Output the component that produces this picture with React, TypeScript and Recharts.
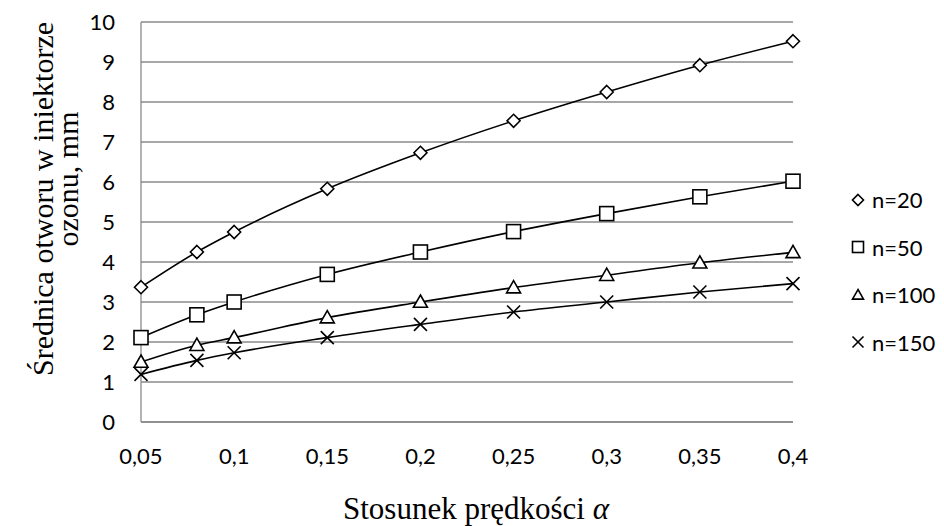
import React from 'react';
import { LineChart, Line, XAxis, YAxis, CartesianGrid } from 'recharts';

const alpha = [0.05, 0.08, 0.1, 0.15, 0.2, 0.25, 0.3, 0.35, 0.4];
const n20 = [3.37, 4.25, 4.75, 5.83, 6.73, 7.53, 8.25, 8.92, 9.52];
const n50 = [2.11, 2.68, 3.0, 3.69, 4.25, 4.76, 5.21, 5.63, 6.02];
const n100 = [1.5, 1.92, 2.11, 2.61, 3.0, 3.36, 3.67, 3.98, 4.24];
const n150 = [1.19, 1.54, 1.73, 2.11, 2.44, 2.75, 3.0, 3.25, 3.46];
const xTicks = [0.05, 0.1, 0.15, 0.2, 0.25, 0.3, 0.35, 0.4];
const yTicks = [0, 1, 2, 3, 4, 5, 6, 7, 8, 9, 10];

const data = alpha.map((a, i) => ({ a, n20: n20[i], n50: n50[i], n100: n100[i], n150: n150[i] }));

type Shape = 'diamond' | 'square' | 'triangle' | 'cross';

const Marker = ({ shape, cx, cy, s }: { shape: Shape; cx: number; cy: number; s: number }) => {
  const st = { fill: '#fff', stroke: '#000', strokeWidth: 1.6 };
  if (shape === 'diamond')
    return <polygon points={`${cx},${cy - s} ${cx + s},${cy} ${cx},${cy + s} ${cx - s},${cy}`} {...st} />;
  if (shape === 'square') return <rect x={cx - s} y={cy - s} width={2 * s} height={2 * s} {...st} />;
  if (shape === 'triangle')
    return <polygon points={`${cx},${cy - s} ${cx + s},${cy + s * 0.75} ${cx - s},${cy + s * 0.75}`} {...st} />;
  return (
    <g stroke="#000" strokeWidth={1.6}>
      <line x1={cx - s} y1={cy - s} x2={cx + s} y2={cy + s} />
      <line x1={cx - s} y1={cy + s} x2={cx + s} y2={cy - s} />
    </g>
  );
};

const series: { key: string; name: string; shape: Shape; size: number }[] = [
  { key: 'n20', name: 'n=20', shape: 'diamond', size: 6.5 },
  { key: 'n50', name: 'n=50', shape: 'square', size: 7 },
  { key: 'n100', name: 'n=100', shape: 'triangle', size: 7 },
  { key: 'n150', name: 'n=150', shape: 'cross', size: 6.5 },
];

const fmt = (v: number) => String(v).replace('.', ',');

const ChartLegend = () => (
  <div style={{ position: 'absolute', left: 849, top: 176, fontFamily: 'Lato', fontSize: 22, color: '#000' }}>
    {series.map((s) => (
      <div key={s.key} style={{ height: 47.5, display: 'flex', alignItems: 'center' }}>
        <svg width={18} height={20} style={{ marginRight: 5 }}>
          <Marker shape={s.shape} cx={9} cy={10} s={5.5} />
        </svg>
        <span>{s.name}</span>
      </div>
    ))}
  </div>
);

// axis titles drawn over the chart, in a serif face
const Titles = () => (
  <svg
    width={944}
    height={526}
    style={{ position: 'absolute', left: 0, top: 0, pointerEvents: 'none' }}
    fontFamily="'Liberation Serif', 'Times New Roman', serif"
    fill="#000"
  >
    <text x={53} y={199} fontSize={30} textAnchor="middle" transform="rotate(-90, 53, 199)">
      Średnica otworu w iniektorze
    </text>
    <text x={78} y={179} fontSize={30} textAnchor="middle" transform="rotate(-90, 78, 179)">
      ozonu, mm
    </text>
    <text x={476} y={519} fontSize={31} textAnchor="middle">
      Stosunek prędkości <tspan fontStyle="italic">α</tspan>
    </text>
  </svg>
);

export default function App() {
  return (
    <div style={{ position: 'absolute', left: 0, top: 0, width: 944, height: 526, background: '#fff' }}>
      <LineChart width={944} height={526} data={data} margin={{ top: 22, right: 151, bottom: 44, left: 81 }}>
        <CartesianGrid vertical={false} stroke="#8a8a8a" strokeWidth={1.3} />
        <XAxis
          dataKey="a"
          type="number"
          domain={[0.05, 0.4]}
          ticks={xTicks}
          tickFormatter={fmt}
          height={60}
          stroke="#8a8a8a"
          strokeWidth={1.3}
          tickLine={false}
          tickSize={0}
          tickMargin={26}
          tick={{ fill: '#000', fontFamily: 'Lato', fontSize: 22 }}
        />
        <YAxis
          type="number"
          domain={[0, 10]}
          ticks={yTicks}
          width={60}
          stroke="#8a8a8a"
          strokeWidth={1.3}
          tickLine={false}
          tickSize={0}
          tickMargin={26}
          tick={{ fill: '#000', fontFamily: 'Lato', fontSize: 22 }}
        />
        {series.map((s) => (
          <Line
            key={s.key}
            dataKey={s.key}
            name={s.name}
            type="monotone"
            stroke="#000"
            strokeWidth={1.6}
            isAnimationActive={false}
            dot={(p: any) => <Marker key={`${s.key}-${p.index}`} shape={s.shape} cx={p.cx} cy={p.cy} s={s.size} />}
            activeDot={false}
          />
        ))}
      </LineChart>
      <Titles />
      <ChartLegend />
    </div>
  );
}
